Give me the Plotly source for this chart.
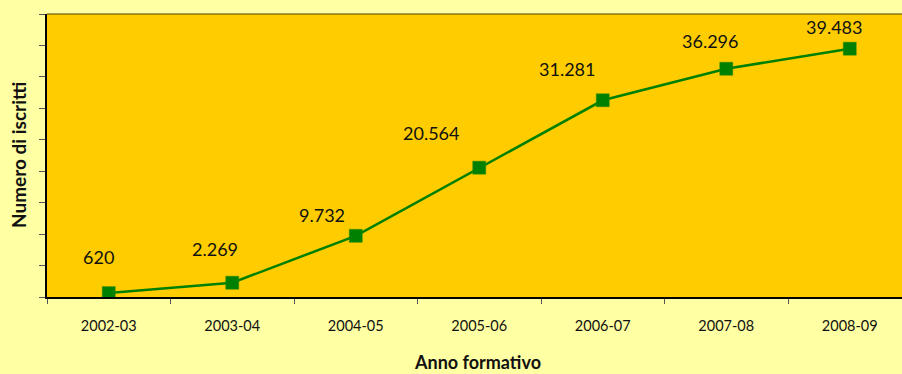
import plotly.graph_objects as go

# Enrolment by training year
anni = ["2002-03", "2003-04", "2004-05", "2005-06", "2006-07", "2007-08", "2008-09"]
iscritti = [620, 2269, 9732, 20564, 31281, 36296, 39483]

# Pixel offsets of each value label relative to its marker
label_dx = [-10, -17, -34, -48, -36, -16, -16]
label_dy = [-36, -34, -21, -35, -31, -28, -22]


def fmt_it(v):
    return f"{v:,}".replace(",", ".")


FONT = "Lato, 'Open Sans', sans-serif"

fig = go.Figure()
fig.add_trace(go.Scatter(
    x=anni,
    y=iscritti,
    mode="lines+markers",
    line=dict(color="#008000", width=2.5),
    marker=dict(symbol="square", size=13, color="#008000",
                line=dict(color="#2e8b00", width=0.5)),
    hoverinfo="skip",
    showlegend=False,
))

for xi, yi, dx, dy in zip(anni, iscritti, label_dx, label_dy):
    fig.add_annotation(
        x=xi, y=yi, xref="x", yref="y",
        text=fmt_it(yi), showarrow=True, arrowcolor="rgba(0,0,0,0)",
        ax=dx, ay=dy, axref="pixel", ayref="pixel",
        font=dict(family=FONT, size=18, color="#111111"),
        xanchor="center", yanchor="middle",
    )

# Axis titles
fig.add_annotation(
    text="<b>Numero di iscritti</b>", xref="paper", yref="paper",
    x=-0.0333, y=0.50, showarrow=False, textangle=-90,
    xanchor="center", yanchor="middle",
    font=dict(family=FONT, size=19, color="#111111"),
)
fig.add_annotation(
    text="<b>Anno formativo</b>", xref="paper", yref="paper",
    x=0.504, y=-0.230, showarrow=False,
    xanchor="center", yanchor="middle",
    font=dict(family=FONT, size=18, color="#111111"),
)

# Thin top border of the plot area
fig.add_shape(type="line", xref="paper", yref="paper",
              x0=0, x1=1, y0=1, y1=1, line=dict(color="#4a4000", width=1))

fig.update_xaxes(
    type="category",
    range=[-0.5, 6.423],
    showline=True, linecolor="#000000", linewidth=2,
    ticks="outside", tickson="boundaries", ticklen=5, tickcolor="#555555",
    tickwidth=1,
    showgrid=False, zeroline=False,
    tickfont=dict(family=FONT, size=14.5, color="#111111"),
    ticklabelstandoff=15,
)
fig.update_yaxes(
    range=[0, 45000], dtick=5000, tick0=0,
    showline=True, linecolor="#000000", linewidth=2,
    ticks="outside", ticklen=6, tickcolor="#555555", tickwidth=1,
    showticklabels=False,
    showgrid=False, zeroline=False,
)

fig.update_layout(
    width=902, height=374,
    margin=dict(l=47, r=0, t=14, b=77),
    paper_bgcolor="#FFFFA3",
    plot_bgcolor="#FFCC00",
    font=dict(family=FONT),
)

fig.write_html("out.html", config={"displayModeBar": False})
